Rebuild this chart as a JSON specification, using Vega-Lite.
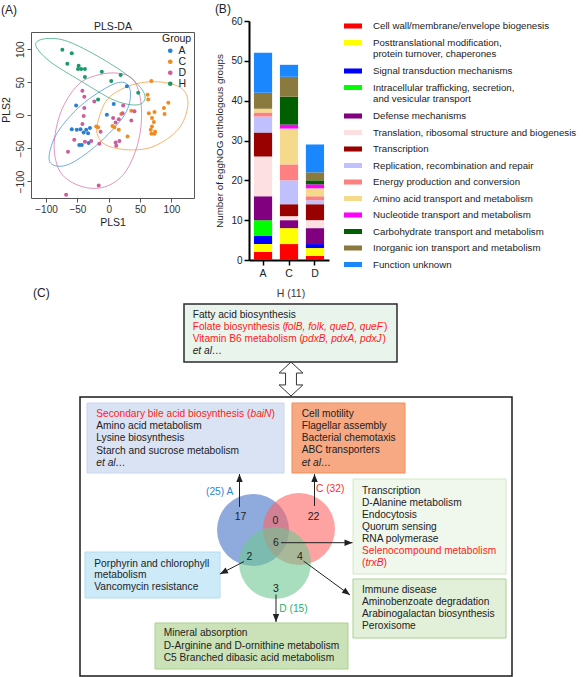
{
  "$schema": "https://vega.github.io/schema/vega-lite/v6.json",
  "padding": {"top": 3, "left": 0, "right": 0, "bottom": 0},
  "background": "white",
  "spacing": 4,
  "config": {"font": "Liberation Sans", "view": {"stroke": null}},
  "vconcat": [
    {
      "spacing": 20,
      "resolve": {"scale": {"color": "independent"}, "legend": {"color": "independent"}},
      "hconcat": [
        {
          "width": 163,
          "height": 177,
          "title": {"text": "(A)", "anchor": "start", "frame": "bounds", "fontSize": 12, "fontWeight": "normal", "color": "#222222", "offset": 4},
          "layer": [
            {
              "data": {"values": [
                {"g": "H", "i": 0, "x": -116.6, "y": 106.7}, {"g": "H", "i": 1, "x": -100.5, "y": 115.9}, {"g": "H", "i": 2, "x": -65.6, "y": 111.8}, {"g": "H", "i": 3, "x": -12.0, "y": 86.3}, {"g": "H", "i": 4, "x": 36.2, "y": 55.8}, {"g": "H", "i": 5, "x": 57.7, "y": 30.3}, {"g": "H", "i": 6, "x": 46.9, "y": 16.0}, {"g": "H", "i": 7, "x": 9.4, "y": 22.6}, {"g": "H", "i": 8, "x": -44.2, "y": 51.7}, {"g": "H", "i": 9, "x": -95.1, "y": 82.3},
                {"g": "A", "i": 0, "x": 4.0, "y": 45.6}, {"g": "A", "i": 1, "x": 28.2, "y": 48.1}, {"g": "A", "i": 2, "x": 34.6, "y": 27.7}, {"g": "A", "i": 3, "x": 22.8, "y": -2.8}, {"g": "A", "i": 4, "x": -17.4, "y": -43.6}, {"g": "A", "i": 5, "x": -60.3, "y": -72.7}, {"g": "A", "i": 6, "x": -87.1, "y": -75.7}, {"g": "A", "i": 7, "x": -95.1, "y": -61.5}, {"g": "A", "i": 8, "x": -81.7, "y": -25.8}, {"g": "A", "i": 9, "x": -44.2, "y": 15.0},
                {"g": "D", "i": 0, "x": -17.4, "y": 60.9}, {"g": "D", "i": 1, "x": 17.4, "y": 63.4}, {"g": "D", "i": 2, "x": 41.6, "y": 50.7}, {"g": "D", "i": 3, "x": 52.3, "y": 9.9}, {"g": "D", "i": 4, "x": 46.9, "y": -41.1}, {"g": "D", "i": 5, "x": 25.5, "y": -86.9}, {"g": "D", "i": 6, "x": -6.7, "y": -108.3}, {"g": "D", "i": 7, "x": -44.2, "y": -107.3}, {"g": "D", "i": 8, "x": -76.4, "y": -86.9}, {"g": "D", "i": 9, "x": -87.1, "y": -46.2}, {"g": "D", "i": 10, "x": -76.4, "y": 4.8}, {"g": "D", "i": 11, "x": -49.6, "y": 45.6},
                {"g": "C", "i": 0, "x": -17.4, "y": -10.5}, {"g": "C", "i": 1, "x": -1.3, "y": 25.2}, {"g": "C", "i": 2, "x": 36.2, "y": 45.6}, {"g": "C", "i": 3, "x": 79.1, "y": 50.7}, {"g": "C", "i": 4, "x": 116.6, "y": 40.5}, {"g": "C", "i": 5, "x": 126.2, "y": 15.0}, {"g": "C", "i": 6, "x": 111.2, "y": -20.7}, {"g": "C", "i": 7, "x": 73.7, "y": -46.2}, {"g": "C", "i": 8, "x": 36.2, "y": -52.3}, {"g": "C", "i": 9, "x": -1.3, "y": -46.2}, {"g": "C", "i": 10, "x": -17.4, "y": -30.9}
              ]},
              "mark": {"type": "line", "interpolate": "cardinal-closed", "strokeWidth": 1, "opacity": 0.65},
              "encoding": {
                "x": {"field": "x", "type": "quantitative", "scale": {"domain": [-124, 136], "nice": false, "zero": false},
                  "axis": {"orient": "top", "offset": -11, "title": "PLS-DA", "labels": false, "ticks": false, "domain": true, "domainColor": "#555555", "domainWidth": 1, "grid": false, "titleFontSize": 10.5, "titleFontWeight": "normal", "titleColor": "#222222", "titlePadding": 1}},
                "y": {"field": "y", "type": "quantitative", "scale": {"domain": [-125, 142.6], "nice": false, "zero": false},
                  "axis": {"orient": "right", "title": null, "labels": false, "ticks": false, "grid": false, "domain": true, "domainColor": "#555555", "domainWidth": 1, "domainDash": [166, 11]}},
                "order": {"field": "i", "type": "quantitative"},
                "stroke": {"field": "g", "type": "nominal", "scale": {"domain": ["A", "C", "D", "H"], "range": ["#2a7fd0", "#f28a1e", "#cc5c9e", "#1a9a6c"]}, "legend": null}
              }
            },
            {
              "data": {"values": [
                {"g": "A", "x": 29, "y": 44}, {"g": "A", "x": -52, "y": 15}, {"g": "A", "x": 8, "y": 17}, {"g": "A", "x": -3, "y": 1}, {"g": "A", "x": -59, "y": -21}, {"g": "A", "x": -51, "y": -22}, {"g": "A", "x": -45, "y": -21}, {"g": "A", "x": -40, "y": -26}, {"g": "A", "x": -36, "y": -22}, {"g": "A", "x": -30, "y": -19}, {"g": "A", "x": -33, "y": -27}, {"g": "A", "x": -47, "y": -45}, {"g": "A", "x": -43, "y": -45}, {"g": "A", "x": -32, "y": -42},
                {"g": "C", "x": 68, "y": 52}, {"g": "C", "x": 62, "y": 31}, {"g": "C", "x": 63, "y": 24}, {"g": "C", "x": 95, "y": 19}, {"g": "C", "x": 88, "y": 11}, {"g": "C", "x": 64, "y": 3}, {"g": "C", "x": 73, "y": 5}, {"g": "C", "x": 89, "y": 2}, {"g": "C", "x": 69, "y": -4}, {"g": "C", "x": 72, "y": -10}, {"g": "C", "x": 69, "y": -17}, {"g": "C", "x": 74, "y": -25}, {"g": "C", "x": 67, "y": -22}, {"g": "C", "x": 73, "y": -28}, {"g": "C", "x": 68, "y": -28}, {"g": "C", "x": 36, "y": 7}, {"g": "C", "x": 20, "y": 2}, {"g": "C", "x": 6, "y": -16}, {"g": "C", "x": 9, "y": -18}, {"g": "C", "x": 16, "y": -22}, {"g": "C", "x": 30, "y": -32}, {"g": "C", "x": -17, "y": -18}, {"g": "C", "x": -20, "y": -17},
                {"g": "D", "x": -68, "y": -120}, {"g": "D", "x": -16, "y": -106}, {"g": "D", "x": -42, "y": 37}, {"g": "D", "x": -39, "y": 28}, {"g": "D", "x": -23, "y": 21}, {"g": "D", "x": -39, "y": 11}, {"g": "D", "x": -40, "y": -1}, {"g": "D", "x": -42, "y": -13}, {"g": "D", "x": -55, "y": -37}, {"g": "D", "x": -65, "y": -55}, {"g": "D", "x": -38, "y": -40}, {"g": "D", "x": -28, "y": -39}, {"g": "D", "x": -15, "y": -43}, {"g": "D", "x": -13, "y": -25}, {"g": "D", "x": 7, "y": -4}, {"g": "D", "x": 11, "y": -11}, {"g": "D", "x": 16, "y": -6}, {"g": "D", "x": 22, "y": 3}, {"g": "D", "x": 36, "y": -8}, {"g": "D", "x": 41, "y": 6}, {"g": "D", "x": 17, "y": -39}, {"g": "D", "x": 11, "y": -41}, {"g": "D", "x": 12, "y": -46}, {"g": "D", "x": 23, "y": 15},
                {"g": "H", "x": -74, "y": 99}, {"g": "H", "x": -59, "y": 94}, {"g": "H", "x": -66, "y": 78}, {"g": "H", "x": -48, "y": 75}, {"g": "H", "x": -49, "y": 70}, {"g": "H", "x": -44, "y": 70}, {"g": "H", "x": -38, "y": 70}, {"g": "H", "x": -38, "y": 58}, {"g": "H", "x": -11, "y": 66}, {"g": "H", "x": 19, "y": 61}, {"g": "H", "x": 4, "y": 52}, {"g": "H", "x": -17, "y": 24}, {"g": "H", "x": 47, "y": 34}
              ]},
              "mark": {"type": "circle", "size": 16, "opacity": 1},
              "encoding": {
                "x": {"field": "x", "type": "quantitative", "scale": {"domain": [-124, 136], "nice": false, "zero": false},
                  "axis": {"orient": "bottom", "values": [-100, -50, 0, 50, 100], "grid": false, "domain": true, "domainColor": "#555555", "domainWidth": 1, "tickSize": 4, "tickColor": "#555555", "labelFontSize": 10, "labelColor": "#333333", "labelPadding": 2, "title": "PLS1", "titleFontSize": 10.5, "titleFontWeight": "normal", "titleColor": "#222222", "titlePadding": 3}},
                "y": {"field": "y", "type": "quantitative", "scale": {"domain": [-125, 142.6], "nice": false, "zero": false},
                  "axis": {"orient": "left", "values": [-100, -50, 0, 50, 100], "grid": false, "domain": true, "domainColor": "#555555", "domainWidth": 1, "domainDash": [166, 11], "tickSize": 4, "tickColor": "#555555", "labelAngle": -90, "labelFontSize": 10, "labelColor": "#333333", "labelPadding": 2, "title": "PLS2", "titleFontSize": 10.5, "titleFontWeight": "normal", "titleColor": "#222222", "titlePadding": 4}},
                "color": {"field": "g", "type": "nominal", "scale": {"domain": ["A", "C", "D", "H"], "range": ["#2a7fd0", "#f28a1e", "#cc5c9e", "#1a9a6c"]},
                  "legend": {"title": "Group", "orient": "none", "legendX": 131, "legendY": 13, "padding": 0, "titleFontSize": 10.5, "titleFontWeight": "normal", "titleColor": "#222222", "titlePadding": 1, "labelFontSize": 10.5, "labelColor": "#222222", "labelOffset": 3, "symbolSize": 22, "symbolType": "circle", "symbolOffset": 3, "rowPadding": -1}}
              }
            }
          ],
          "resolve": {"axis": {"x": "independent", "y": "independent"}}
        },
        {
          "width": 80,
          "height": 239,
          "title": {"text": "(B)", "anchor": "start", "frame": "bounds", "fontSize": 12, "fontWeight": "normal", "color": "#222222", "offset": 0},
          "data": {"values": [
            {"g": "A", "cat": "Cell wall/membrane/envelope biogenesis", "n": 2},
            {"g": "A", "cat": "Posttranslational modification, protein turnover, chaperones", "n": 2},
            {"g": "A", "cat": "Signal transduction mechanisms", "n": 2},
            {"g": "A", "cat": "Intracellular trafficking, secretion, and vesicular transport", "n": 4},
            {"g": "A", "cat": "Defense mechanisms", "n": 6},
            {"g": "A", "cat": "Translation, ribosomal structure and biogenesis", "n": 10},
            {"g": "A", "cat": "Transcription", "n": 6},
            {"g": "A", "cat": "Replication, recombination and repair", "n": 4},
            {"g": "A", "cat": "Energy production and conversion", "n": 1},
            {"g": "A", "cat": "Amino acid transport and metabolism", "n": 1},
            {"g": "A", "cat": "Inorganic ion transport and metabolism", "n": 4},
            {"g": "A", "cat": "Function unknown", "n": 10},
            {"g": "C", "cat": "Cell wall/membrane/envelope biogenesis", "n": 4},
            {"g": "C", "cat": "Posttranslational modification, protein turnover, chaperones", "n": 4},
            {"g": "C", "cat": "Defense mechanisms", "n": 2},
            {"g": "C", "cat": "Translation, ribosomal structure and biogenesis", "n": 1},
            {"g": "C", "cat": "Transcription", "n": 3},
            {"g": "C", "cat": "Replication, recombination and repair", "n": 6},
            {"g": "C", "cat": "Energy production and conversion", "n": 4},
            {"g": "C", "cat": "Amino acid transport and metabolism", "n": 9},
            {"g": "C", "cat": "Nucleotide transport and metabolism", "n": 1},
            {"g": "C", "cat": "Carbohydrate transport and metabolism", "n": 7},
            {"g": "C", "cat": "Inorganic ion transport and metabolism", "n": 5},
            {"g": "C", "cat": "Function unknown", "n": 3},
            {"g": "D", "cat": "Cell wall/membrane/envelope biogenesis", "n": 1},
            {"g": "D", "cat": "Posttranslational modification, protein turnover, chaperones", "n": 2},
            {"g": "D", "cat": "Signal transduction mechanisms", "n": 1},
            {"g": "D", "cat": "Defense mechanisms", "n": 4},
            {"g": "D", "cat": "Translation, ribosomal structure and biogenesis", "n": 2},
            {"g": "D", "cat": "Transcription", "n": 4},
            {"g": "D", "cat": "Replication, recombination and repair", "n": 1},
            {"g": "D", "cat": "Energy production and conversion", "n": 1},
            {"g": "D", "cat": "Amino acid transport and metabolism", "n": 2},
            {"g": "D", "cat": "Nucleotide transport and metabolism", "n": 1},
            {"g": "D", "cat": "Carbohydrate transport and metabolism", "n": 1},
            {"g": "D", "cat": "Inorganic ion transport and metabolism", "n": 2},
            {"g": "D", "cat": "Function unknown", "n": 7}
          ]},
          "transform": [{"calculate": "indexof(['Cell wall/membrane/envelope biogenesis', 'Posttranslational modification, protein turnover, chaperones', 'Signal transduction mechanisms', 'Intracellular trafficking, secretion, and vesicular transport', 'Defense mechanisms', 'Translation, ribosomal structure and biogenesis', 'Transcription', 'Replication, recombination and repair', 'Energy production and conversion', 'Amino acid transport and metabolism', 'Nucleotide transport and metabolism', 'Carbohydrate transport and metabolism', 'Inorganic ion transport and metabolism', 'Function unknown'], datum.cat)", "as": "k"}],
          "mark": {"type": "bar", "width": {"band": 0.7}},
          "encoding": {
            "x": {"field": "g", "type": "nominal", "scale": {"paddingInner": 0, "paddingOuter": 0.04},
              "axis": {"labelAngle": 0, "title": null, "domainColor": "#000000", "domainWidth": 2, "tickColor": "#000000", "tickWidth": 1.5, "tickSize": 5, "labelFontSize": 10.5, "labelColor": "#222222", "labelPadding": 3}},
            "y": {"field": "n", "type": "quantitative", "stack": "zero", "scale": {"domain": [0, 60], "nice": false},
              "axis": {"values": [0, 10, 20, 30, 40, 50, 60], "grid": false, "domainColor": "#000000", "domainWidth": 2, "tickColor": "#000000", "tickWidth": 1.5, "tickSize": 5, "labelFontSize": 10, "labelColor": "#222222", "labelPadding": 2, "title": "Number of eggNOG orthologous groups", "titleFontSize": 9.8, "titleFontWeight": "normal", "titleColor": "#222222", "titlePadding": 6}},
            "order": {"field": "k", "type": "quantitative", "sort": "ascending"},
            "color": {"field": "cat", "type": "nominal",
              "sort": ["Cell wall/membrane/envelope biogenesis", "Posttranslational modification, protein turnover, chaperones", "Signal transduction mechanisms", "Intracellular trafficking, secretion, and vesicular transport", "Defense mechanisms", "Translation, ribosomal structure and biogenesis", "Transcription", "Replication, recombination and repair", "Energy production and conversion", "Amino acid transport and metabolism", "Nucleotide transport and metabolism", "Carbohydrate transport and metabolism", "Inorganic ion transport and metabolism", "Function unknown"],
              "scale": {"domain": ["Cell wall/membrane/envelope biogenesis", "Posttranslational modification, protein turnover, chaperones", "Signal transduction mechanisms", "Intracellular trafficking, secretion, and vesicular transport", "Defense mechanisms", "Translation, ribosomal structure and biogenesis", "Transcription", "Replication, recombination and repair", "Energy production and conversion", "Amino acid transport and metabolism", "Nucleotide transport and metabolism", "Carbohydrate transport and metabolism", "Inorganic ion transport and metabolism", "Function unknown"],
                "range": ["#ff0000", "#ffff00", "#0000ff", "#00ff00", "#800080", "#fde0e2", "#990000", "#c0c0ff", "#ff8080", "#f6da8c", "#ff00ff", "#005f00", "#8a7a3e", "#1a87ff"]},
              "legend": {"title": null, "orient": "right", "offset": 19, "padding": -4, "symbolType": "M-1,-0.28L1,-0.28L1,0.28L-1,0.28Z", "symbolSize": 324, "symbolStrokeWidth": 0, "labelFontSize": 9.7, "labelColor": "#222222", "labelLimit": 300, "labelOffset": 11, "rowPadding": 2.5,
                "labelExpr": "datum.label == 'Posttranslational modification, protein turnover, chaperones' ? ['Posttranslational modification,', 'protein turnover, chaperones'] : datum.label == 'Intracellular trafficking, secretion, and vesicular transport' ? ['Intracellular trafficking, secretion,', 'and vesicular transport'] : datum.label"}}
          }
        }
      ]
    },
    {
      "width": 583,
      "height": 395,
      "encoding": {
        "x": {"field": "x", "type": "quantitative", "scale": {"domain": [0, 583], "nice": false, "zero": false}, "axis": null},
        "y": {"field": "y", "type": "quantitative", "scale": {"domain": [282, 677], "nice": false, "zero": false, "reverse": true}, "axis": null}
      },
      "layer": [
        {
          "data": {"name": "boxes", "values": [
            {"id": "big", "x": 49, "x2": 481, "y": 396, "y2": 675},
            {"id": "H", "x": 153, "x2": 366, "y": 303, "y2": 361},
            {"id": "bile", "x": 56, "x2": 253, "y": 402, "y2": 472},
            {"id": "motility", "x": 261, "x2": 374, "y": 402, "y2": 472},
            {"id": "transcription", "x": 322, "x2": 475, "y": 478, "y2": 573},
            {"id": "immune", "x": 322, "x2": 475, "y": 578, "y2": 637},
            {"id": "porphyrin", "x": 54, "x2": 189, "y": 551, "y2": 597},
            {"id": "mineral", "x": 124, "x2": 317, "y": 622, "y2": 668}
          ]},
          "transform": [{"filter": "datum.id == 'big' || datum.id == 'H'"}],
          "mark": {"type": "rect", "strokeWidth": 1.5},
          "encoding": {
            "x2": {"field": "x2"}, "y2": {"field": "y2"},
            "fill": {"field": "id", "type": "nominal", "scale": {"domain": ["big", "H"], "range": ["#ffffff", "#e9f4ec"]}, "legend": null},
            "stroke": {"field": "id", "type": "nominal", "scale": {"domain": ["big", "H"], "range": ["#1a1a1a", "#2b2b2b"]}, "legend": null}
          }
        },
        {
          "data": {"name": "boxes"},
          "transform": [{"filter": "datum.id != 'big' && datum.id != 'H'"}],
          "mark": {"type": "rect", "strokeWidth": 1},
          "encoding": {
            "x2": {"field": "x2"}, "y2": {"field": "y2"},
            "fill": {"field": "id", "type": "nominal", "scale": {"domain": ["bile", "motility", "transcription", "immune", "porphyrin", "mineral"], "range": ["#dae3f3", "#f6a982", "#f0f7ec", "#e2f0d9", "#cdeaf9", "#cbe2b8"]}, "legend": null},
            "stroke": {"field": "id", "type": "nominal", "scale": {"domain": ["bile", "motility", "transcription", "immune", "porphyrin", "mineral"], "range": ["#c9d6ec", "#ef8d55", "#d2e8c4", "#a9d18e", "#b4dcf2", "#a9d18e"]}, "legend": null}
          }
        },
        {
          "data": {"values": [{"x": 260, "y": 378}]},
          "mark": {"type": "point", "shape": "M0,-1L0.7,-0.35L0.32,-0.35L0.32,0.35L0.7,0.35L0,1L-0.7,0.35L-0.32,0.35L-0.32,-0.35L-0.7,-0.35Z", "size": 1156, "filled": true, "fill": "#ffffff", "stroke": "#333333", "strokeWidth": 1, "opacity": 1},
          "encoding": {}
        },
        {
          "data": {"values": [{"set": "A", "x": 222, "y": 529}, {"set": "C", "x": 268, "y": 528}, {"set": "D", "x": 244, "y": 562}]},
          "mark": {"type": "point", "shape": "circle", "size": 5184, "filled": true, "fillOpacity": 0.6, "strokeWidth": 0},
          "encoding": {
            "fill": {"field": "set", "type": "nominal", "scale": {"domain": ["A", "C", "D"], "range": ["#4472c4", "#ff6464", "#6ec693"]}, "legend": null}
          }
        },
        {
          "data": {"name": "arrows", "values": [
            {"x": 208.5, "y": 506, "x2": 208.5, "y2": 473, "hx": 208.5, "hy": 477, "heading": 0},
            {"x": 283.5, "y": 505, "x2": 283.5, "y2": 473, "hx": 283.5, "hy": 477, "heading": 0},
            {"x": 250, "y": 541.7, "x2": 321.5, "y2": 541.7, "hx": 317.5, "hy": 541.7, "heading": 90},
            {"x": 213, "y": 560.5, "x2": 189, "y2": 573, "hx": 192.5, "hy": 571.2, "heading": 242.5},
            {"x": 272.5, "y": 560, "x2": 319, "y2": 594, "hx": 315.8, "hy": 591.6, "heading": 126.2},
            {"x": 245, "y": 593.5, "x2": 245, "y2": 621, "hx": 245, "hy": 617, "heading": 180}
          ]},
          "mark": {"type": "rule", "stroke": "#222222", "strokeWidth": 1},
          "encoding": {"x2": {"field": "x2"}, "y2": {"field": "y2"}}
        },
        {
          "data": {"name": "arrows"},
          "mark": {"type": "point", "shape": "M0,-1L0.8,1L-0.8,1Z", "size": 64, "filled": true, "fill": "#222222", "strokeWidth": 0, "opacity": 1},
          "encoding": {
            "x": {"field": "hx", "type": "quantitative"},
            "y": {"field": "hy", "type": "quantitative"},
            "angle": {"field": "heading", "type": "quantitative", "scale": null}
          }
        },
        {
          "data": {"values": [{"x": 2, "y": 292, "text": "(C)"}]},
          "mark": {"type": "text", "align": "left", "baseline": "middle", "fontSize": 12, "fill": "#222222"},
          "encoding": {"text": {"field": "text"}}
        },
        {
          "data": {"values": [
            {"x": 260, "y": 293, "text": "H (11)", "kind": "title"},
            {"x": 209.5, "y": 516, "text": "17", "kind": "count"},
            {"x": 244.5, "y": 519.5, "text": "0", "kind": "count"},
            {"x": 282.5, "y": 516, "text": "22", "kind": "count"},
            {"x": 245, "y": 541.7, "text": "6", "kind": "count"},
            {"x": 218.3, "y": 555.5, "text": "2", "kind": "count"},
            {"x": 269, "y": 555.5, "text": "4", "kind": "count"},
            {"x": 245, "y": 587.5, "text": "3", "kind": "count"}
          ]},
          "mark": {"type": "text", "align": "center", "baseline": "middle", "fontSize": 10.5},
          "encoding": {
            "text": {"field": "text"},
            "color": {"field": "kind", "type": "nominal", "scale": {"domain": ["title", "count"], "range": ["#3a3a3a", "#222222"]}, "legend": null}
          }
        },
        {
          "data": {"values": [
            {"x": 161.7, "y": 314, "text": "Fatty acid biosynthesis", "kind": "plain"},
            {"x": 161.7, "y": 325.7, "text": "Folate biosynthesis (", "kind": "hl"},
            {"x": 353, "y": 325.7, "text": ")", "kind": "hl"},
            {"x": 161.7, "y": 337.6, "text": "Vitamin B6 metabolism (", "kind": "hl"},
            {"x": 351.5, "y": 337.6, "text": ")", "kind": "hl"},
            {"x": 65.3, "y": 413.3, "text": "Secondary bile acid biosynthesis (", "kind": "hl"},
            {"x": 240.5, "y": 413.3, "text": ")", "kind": "hl"},
            {"x": 65.3, "y": 425.3, "text": "Amino acid metabolism", "kind": "plain"},
            {"x": 65.3, "y": 437.4, "text": "Lysine biosynthesis", "kind": "plain"},
            {"x": 65.3, "y": 449.6, "text": "Starch and sucrose metabolism", "kind": "plain"},
            {"x": 270.7, "y": 413.3, "text": "Cell motility", "kind": "plain"},
            {"x": 270.7, "y": 425.4, "text": "Flagellar assembly", "kind": "plain"},
            {"x": 270.7, "y": 437.4, "text": "Bacterial chemotaxis", "kind": "plain"},
            {"x": 270.7, "y": 449.4, "text": "ABC transporters", "kind": "plain"},
            {"x": 331, "y": 490, "text": "Transcription", "kind": "plain"},
            {"x": 331, "y": 501.9, "text": "D-Alanine metabolism", "kind": "plain"},
            {"x": 331, "y": 513.9, "text": "Endocytosis", "kind": "plain"},
            {"x": 331, "y": 525.9, "text": "Quorum sensing", "kind": "plain"},
            {"x": 331, "y": 537.9, "text": "RNA polymerase", "kind": "plain"},
            {"x": 331, "y": 550.1, "text": "Selenocompound metabolism", "kind": "hl"},
            {"x": 331, "y": 562, "text": "(", "kind": "hl"},
            {"x": 352.5, "y": 562, "text": ")", "kind": "hl"},
            {"x": 331, "y": 589.3, "text": "Immune disease", "kind": "plain"},
            {"x": 331, "y": 601.3, "text": "Aminobenzoate degradation", "kind": "plain"},
            {"x": 331, "y": 613.3, "text": "Arabinogalactan biosynthesis", "kind": "plain"},
            {"x": 331, "y": 625.3, "text": "Peroxisome", "kind": "plain"},
            {"x": 63.3, "y": 562.7, "text": "Porphyrin and chlorophyll", "kind": "plain"},
            {"x": 63.3, "y": 574.3, "text": "metabolism", "kind": "plain"},
            {"x": 63.3, "y": 586, "text": "Vancomycin resistance", "kind": "plain"},
            {"x": 132.7, "y": 632.3, "text": "Mineral absorption", "kind": "plain"},
            {"x": 132.7, "y": 644.6, "text": "D-Arginine and D-ornithine metabolism", "kind": "plain"},
            {"x": 132.7, "y": 656.7, "text": "C5 Branched dibasic acid metabolism", "kind": "plain"},
            {"x": 175, "y": 490.7, "text": "(25) A", "kind": "A"},
            {"x": 285, "y": 488.3, "text": "C (32)", "kind": "C"},
            {"x": 248.3, "y": 608.3, "text": "D (15)", "kind": "D"}
          ]},
          "mark": {"type": "text", "align": "left", "baseline": "middle", "fontSize": 10.2},
          "encoding": {
            "text": {"field": "text"},
            "color": {"field": "kind", "type": "nominal", "scale": {"domain": ["plain", "hl", "A", "C", "D"], "range": ["#222222", "#ff1a1a", "#2e86d4", "#ff2b2b", "#1fb36b"]}, "legend": null}
          }
        },
        {
          "data": {"values": [
            {"x": 254, "y": 325.7, "text": "folB, folk, queD, queF", "kind": "hl"},
            {"x": 271.3, "y": 337.6, "text": "pdxB, pdxA, pdxJ", "kind": "hl"},
            {"x": 161.7, "y": 349.6, "text": "et al…", "kind": "plain"},
            {"x": 219.5, "y": 413.3, "text": "baiN", "kind": "hl"},
            {"x": 65.3, "y": 462, "text": "et al…", "kind": "plain"},
            {"x": 270.7, "y": 462.2, "text": "et al…", "kind": "plain"},
            {"x": 334.4, "y": 562, "text": "trxB", "kind": "hl"}
          ]},
          "mark": {"type": "text", "align": "left", "baseline": "middle", "fontSize": 10.2, "fontStyle": "italic"},
          "encoding": {
            "text": {"field": "text"},
            "color": {"field": "kind", "type": "nominal", "scale": {"domain": ["plain", "hl"], "range": ["#222222", "#ff1a1a"]}, "legend": null}
          }
        }
      ],
      "resolve": {"scale": {"fill": "independent", "stroke": "independent", "color": "independent"}}
    }
  ]
}
